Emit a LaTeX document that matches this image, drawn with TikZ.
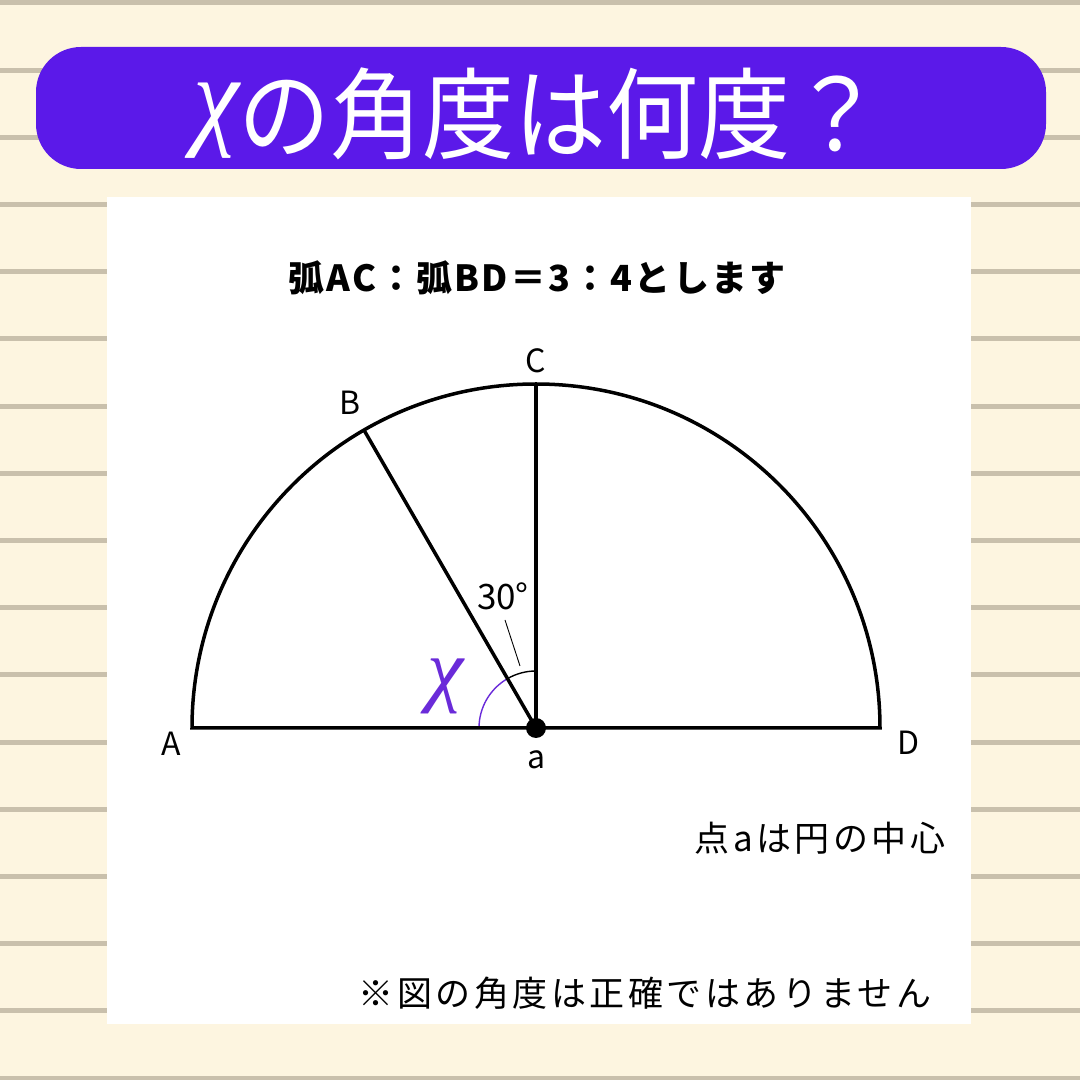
\documentclass[tikz,border=0pt]{standalone}
\usepackage{fontspec}
\usetikzlibrary{calc}
\setmainfont{Noto Sans CJK JP}
\newfontfamily\chifont{Liberation Serif}
\definecolor{bg}{HTML}{FDF5E0}
\definecolor{stripe}{HTML}{C9C0AC}
\definecolor{vio}{HTML}{5B19E9}
\definecolor{xvio}{HTML}{6A2BD9}
\tikzset{
  lbl/.style={font=\fontsize{32}{32}\selectfont, inner sep=0pt},
  thick line/.style={line width=3.5pt},
  thin arc/.style={line width=1.4pt},
}
\begin{document}
\begin{tikzpicture}[x=1pt,y=1pt]
\useasboundingbox (0,0) rectangle (1080,1080);
\fill[bg] (0,0) rectangle (1080,1080);
\foreach \k in {0,...,16} \fill[stripe] (0,{1080-3-67.2*\k-2.5}) rectangle (1080,{1080-3-67.2*\k+2.5});
% title
\node[fill=vio, rounded corners=45pt, minimum width=1010pt, minimum height=122pt, inner sep=0pt] (titlebox) at (541,972) {};
\node[text=white, inner sep=0pt, font=\fontsize{92}{92}\selectfont, yscale=1.08] (title) at (538,966) {\raisebox{16pt}{\chifont\itshape\fontsize{104}{104}\selectfont χ}の角度は何度？};
% panel
\fill[white] (107,56) rectangle (971,883);
\node[font=\bfseries\fontsize{36}{36}\selectfont\addfontfeature{LetterSpace=6}, inner sep=0pt] (sub) at (537,802) {弧AC：弧BD＝3：4とします};
% geometry
\coordinate (a) at (536,352);
\coordinate (A) at (192,352);
\coordinate (D) at (880,352);
\coordinate (C) at (536,696);
\coordinate (B) at ($(a)+(120:344)$);
\draw[thin arc] ([shift={(90:57)}]a) arc[start angle=90,end angle=120,radius=57];
\draw[thin arc, xvio] ([shift={(120:57)}]a) arc[start angle=120,end angle=180,radius=57];
\draw[thick line] (D) arc[start angle=0,end angle=180,radius=344] -- cycle;
\draw[thick line] (a) -- (C);
\draw[thick line] (a) -- (B);
\fill (a) circle (10);
% labels
\node[lbl] (lA) at (171,336) {A};
\node[lbl] (lB) at (350,677) {B};
\node[lbl] (lC) at (536,719) {C};
\node[lbl] (lD) at (909,337) {D};
\node[lbl] (la) at (537,320) {a};
\node[lbl, font=\fontsize{35}{35}\selectfont] (l30) at (503,484) {30°};
\coordinate (p1) at (505,460);
\coordinate (p2) at (520,414);
\draw[line width=0.9pt] (p1) -- (p2);
\node[text=xvio, inner sep=0pt, font=\chifont\itshape\fontsize{82}{82}\selectfont] (x) at (446,394) {χ};
% notes
\node[inner sep=0pt, font=\fontsize{35}{35}\selectfont\addfontfeature{LetterSpace=10}] (n1) at (820,242) {点aは円の中心};
\node[inner sep=0pt, font=\fontsize{35}{35}\selectfont\addfontfeature{LetterSpace=10}] (n2) at (645,87) {※図の角度は正確ではありません};
\end{tikzpicture}
\end{document}
